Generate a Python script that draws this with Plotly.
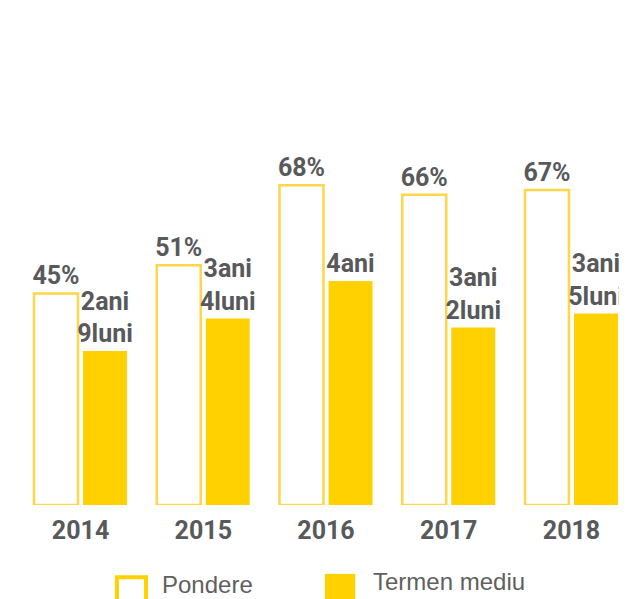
import plotly.graph_objects as go

years = ['2014', '2015', '2016', '2017', '2018']
pondere = [45, 51, 68, 66, 67]
termen_ani = [2.75, 3.33, 4.0, 3.17, 3.42]
termen_labels = ['2ani<br>9luni', '3ani<br>4luni', '4ani', '3ani<br>2luni', '3ani<br>5luni']

yellow = '#FFD100'
gray = '#58595B'
bold_font = dict(family='Roboto, sans-serif', size=25, color=gray)
legend_font = dict(family='Liberation Sans, Arial, sans-serif', size=24, color='#606060')

x = list(range(len(years)))

fig = go.Figure()
fig.add_trace(go.Bar(
    x=x, y=pondere, name='Pondere',
    width=0.358, offset=-0.379,
    marker=dict(color='white', line=dict(color='#FFD54A', width=2.5)),
    text=['<b>%d%%</b>' % v for v in pondere],
    textposition='outside', constraintext='none', cliponaxis=False,
    textfont=bold_font, yaxis='y'
))
fig.add_trace(go.Bar(
    x=x, y=termen_ani, name='Termen mediu',
    width=0.358, offset=0.0204,
    marker=dict(color=yellow, line=dict(width=0)),
    text=['<b>%s</b>' % t for t in termen_labels],
    textposition='outside', constraintext='none', cliponaxis=False,
    textfont=bold_font, yaxis='y2'
))

# legend drawn by hand to get the large swatches
shapes = [
    dict(type='rect', xref='paper', yref='paper', x0=0.176, x1=0.223, y0=-0.228, y1=-0.170,
         line=dict(color=yellow, width=4), fillcolor='white'),
    dict(type='rect', xref='paper', yref='paper', x0=0.512, x1=0.561, y0=-0.235, y1=-0.162,
         line=dict(width=0), fillcolor=yellow),
]
annotations = [
    dict(text='Pondere', xref='paper', yref='paper', x=0.246, y=-0.187, xanchor='left', yanchor='middle',
         showarrow=False, font=legend_font),
    dict(text='Termen mediu', xref='paper', yref='paper', x=0.586, y=-0.179, xanchor='left', yanchor='middle',
         showarrow=False, font=legend_font),
]

# page body has an 8px margin, so the figure is 8px smaller than the window
fig.update_layout(
    width=619, height=591,
    margin=dict(l=0, r=0, t=72, b=94),
    barmode='overlay',
    showlegend=False,
    plot_bgcolor='white', paper_bgcolor='white',
    xaxis=dict(range=[-0.591, 4.452], tickvals=x, ticktext=['<b>%s</b>' % y for y in years],
               tickfont=bold_font, showgrid=False, zeroline=False, showline=False, ticks='',
               ticklabelstandoff=8),
    yaxis=dict(range=[0, 90.4], visible=False),
    yaxis2=dict(range=[0, 7.59], visible=False, overlaying='y'),
    shapes=shapes, annotations=annotations,
)

fig.write_html('out.html')
